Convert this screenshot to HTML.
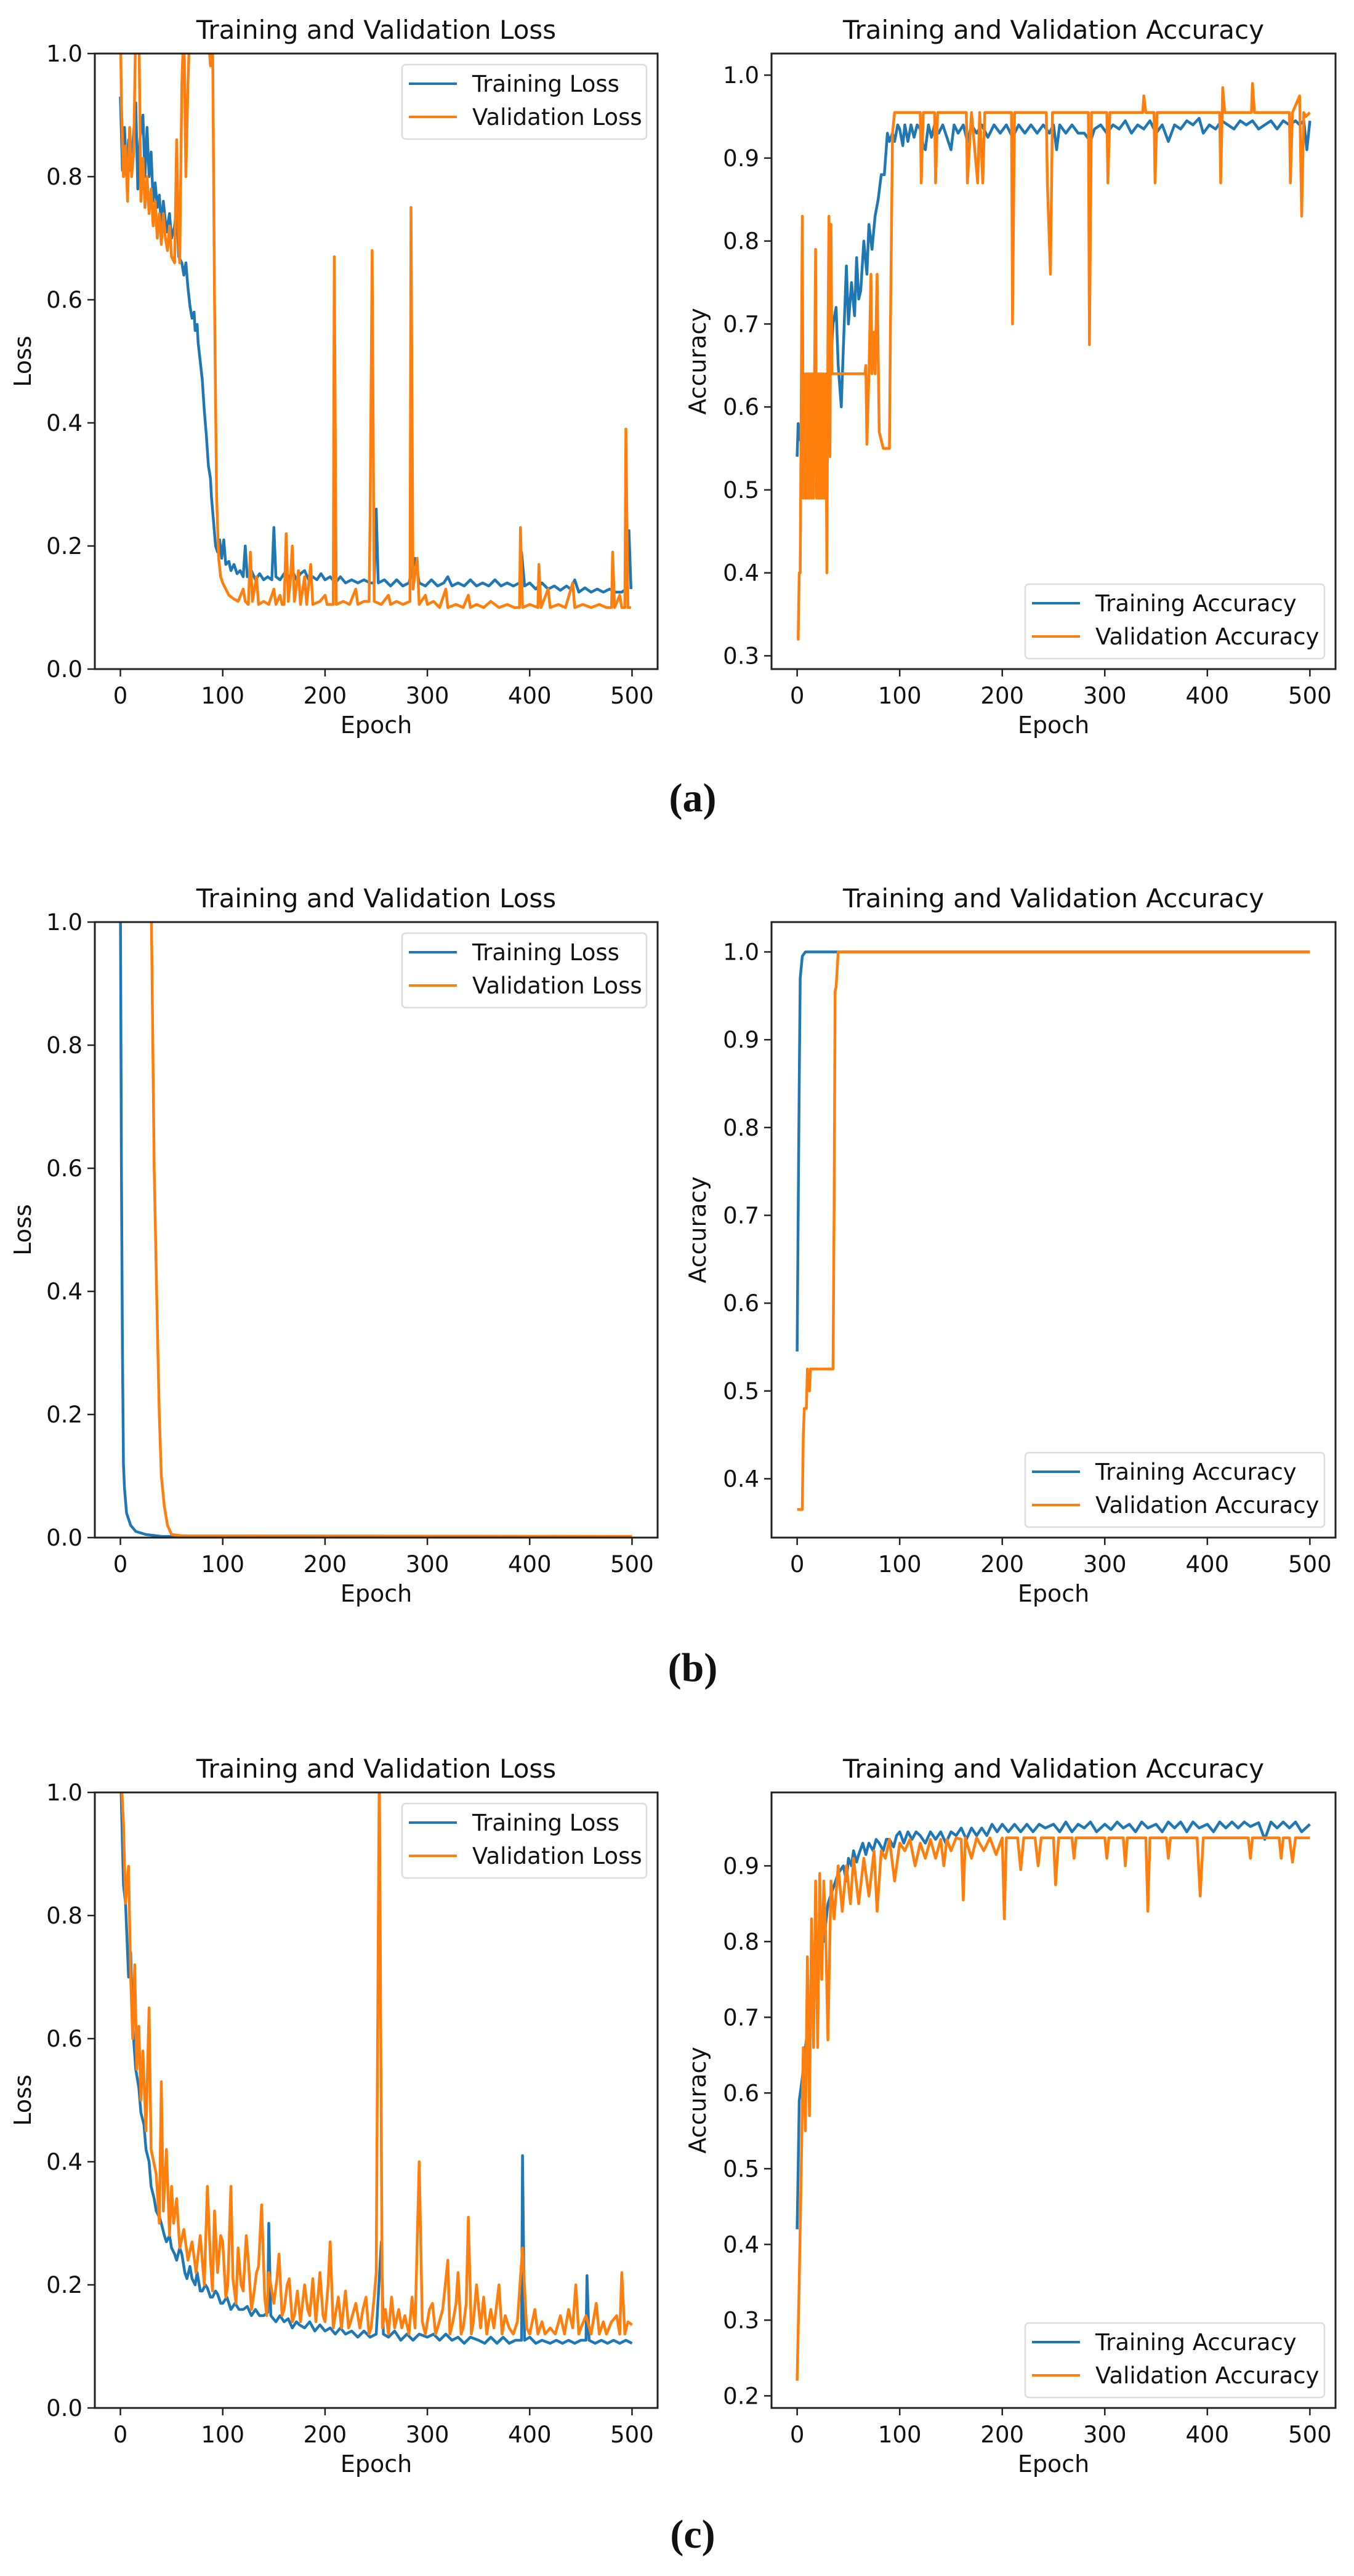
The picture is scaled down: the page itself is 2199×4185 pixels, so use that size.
<!DOCTYPE html>
<html><head><meta charset="utf-8"><title>Training curves</title>
<style>
html,body{margin:0;padding:0;background:#fff;}
svg{display:block;}
text{font-family:"DejaVu Sans","Liberation Sans",sans-serif;fill:#111;}
.plabel{font-family:"Liberation Serif",serif;font-weight:bold;font-size:66px;}
</style></head>
<body>
<svg id="fig" width="2199" height="4185" viewBox="0 0 2199 4185" xmlns="http://www.w3.org/2000/svg">
<rect width="2199" height="4185" fill="#fff"/>
<text class="plabel" x="1125" y="1318" text-anchor="middle">(a)</text>
<text class="plabel" x="1125" y="2731" text-anchor="middle">(b)</text>
<text class="plabel" x="1125" y="4139" text-anchor="middle">(c)</text>
</svg>
<script>
// ---------- data: [epoch, value] ----------
const xTicks = [0,100,200,300,400,500];
const lossTicks = [0.0,0.2,0.4,0.6,0.8,1.0];
const accTicksA = [0.3,0.4,0.5,0.6,0.7,0.8,0.9,1.0];
const accTicksB = [0.4,0.5,0.6,0.7,0.8,0.9,1.0];
const accTicksC = [0.2,0.3,0.4,0.5,0.6,0.7,0.8,0.9];

const aTrainLoss = [[0,0.93],[2,0.81],[4,0.88],[6,0.80],[8,0.86],[10,0.81],[12,0.85],[15,0.92],[17,0.78],[19,0.86],[22,0.90],[24,0.80],[26,0.88],[28,0.80],[30,0.84],[32,0.76],[34,0.79],[36,0.75],[38,0.77],[40,0.72],[42,0.76],[45,0.71],[48,0.74],[50,0.70],[53,0.72],[55,0.75],[57,0.67],[60,0.66],[62,0.64],[64,0.66],[66,0.62],[68,0.59],[70,0.57],[72,0.58],[73,0.55],[75,0.56],[76,0.53],[78,0.50],[80,0.47],[82,0.42],[84,0.38],[86,0.33],[88,0.31],[89,0.28],[91,0.24],[93,0.20],[95,0.19],[97,0.21],[99,0.18],[101,0.21],[103,0.17],[106,0.175],[108,0.16],[111,0.17],[114,0.155],[117,0.16],[120,0.15],[122,0.20],[124,0.15],[128,0.16],[132,0.145],[136,0.155],[140,0.145],[144,0.15],[148,0.145],[150,0.23],[152,0.15],[156,0.145],[160,0.155],[164,0.145],[168,0.16],[172,0.145],[176,0.155],[180,0.16],[184,0.145],[188,0.15],[192,0.145],[196,0.155],[200,0.145],[205,0.15],[210,0.14],[215,0.15],[220,0.14],[226,0.145],[232,0.14],[238,0.145],[244,0.14],[248,0.14],[250,0.26],[252,0.14],[258,0.145],[264,0.135],[270,0.145],[276,0.135],[282,0.14],[288,0.18],[292,0.14],[298,0.135],[304,0.145],[310,0.135],[316,0.14],[320,0.15],[324,0.135],[330,0.14],[336,0.135],[342,0.145],[348,0.135],[354,0.14],[360,0.135],[366,0.145],[372,0.135],[378,0.14],[384,0.135],[390,0.14],[392,0.19],[395,0.135],[400,0.14],[406,0.13],[412,0.14],[418,0.13],[424,0.135],[430,0.128],[436,0.135],[440,0.13],[444,0.145],[448,0.125],[454,0.132],[460,0.125],[466,0.13],[472,0.125],[478,0.13],[484,0.125],[490,0.125],[494,0.13],[497,0.225],[499,0.13]];
const aValLoss = [[0,1.05],[1,0.92],[3,0.80],[5,0.85],[7,0.76],[9,0.88],[11,0.80],[13,0.84],[15,1.05],[18,1.05],[20,0.76],[22,0.83],[24,0.75],[26,0.80],[28,0.74],[30,0.78],[32,0.72],[34,0.76],[36,0.70],[38,0.74],[40,0.69],[42,0.74],[44,0.70],[46,0.68],[48,0.72],[50,0.67],[53,0.66],[55,0.86],[57,0.69],[58,0.66],[60,0.95],[62,1.05],[64,0.80],[66,0.95],[68,1.05],[85,1.05],[88,0.98],[90,1.05],[92,0.60],[94,0.28],[96,0.18],[98,0.15],[100,0.14],[103,0.13],[106,0.12],[110,0.115],[115,0.11],[120,0.13],[122,0.11],[125,0.105],[127,0.19],[129,0.11],[133,0.15],[135,0.105],[140,0.11],[145,0.105],[150,0.13],[152,0.105],[156,0.12],[158,0.105],[160,0.105],[162,0.22],[164,0.11],[166,0.14],[168,0.20],[170,0.11],[174,0.16],[176,0.105],[180,0.15],[182,0.105],[186,0.17],[188,0.105],[195,0.11],[200,0.12],[202,0.105],[208,0.105],[209,0.67],[211,0.105],[218,0.11],[224,0.105],[230,0.13],[232,0.105],[238,0.11],[243,0.11],[244,0.24],[246,0.68],[248,0.11],[255,0.105],[262,0.12],[264,0.105],[270,0.11],[276,0.105],[283,0.11],[284,0.75],[286,0.13],[290,0.18],[292,0.105],[298,0.12],[300,0.105],[306,0.11],[312,0.10],[318,0.13],[320,0.10],[328,0.105],[335,0.10],[340,0.12],[342,0.10],[348,0.105],[355,0.10],[362,0.11],[370,0.10],[378,0.105],[385,0.10],[390,0.10],[391,0.23],[393,0.10],[400,0.105],[408,0.10],[409,0.17],[411,0.10],[418,0.13],[420,0.10],[428,0.105],[435,0.10],[442,0.14],[444,0.10],[452,0.105],[460,0.10],[468,0.105],[475,0.10],[480,0.10],[481,0.19],[483,0.10],[488,0.12],[490,0.10],[493,0.10],[494,0.39],[496,0.10],[499,0.10]];
const aTrainAcc = [[0,0.54],[1,0.58],[3,0.56],[5,0.60],[8,0.58],[10,0.63],[13,0.60],[15,0.62],[18,0.59],[20,0.60],[23,0.63],[25,0.62],[28,0.60],[30,0.64],[33,0.66],[35,0.70],[38,0.72],[40,0.65],[43,0.60],[45,0.67],[48,0.77],[50,0.70],[53,0.75],[56,0.71],[58,0.78],[60,0.73],[62,0.74],[65,0.80],[68,0.76],[70,0.82],[73,0.79],[76,0.83],[79,0.85],[82,0.88],[85,0.88],[88,0.93],[90,0.92],[93,0.93],[95,0.92],[98,0.94],[100,0.935],[103,0.915],[105,0.94],[108,0.92],[111,0.94],[114,0.925],[117,0.94],[120,0.935],[123,0.915],[125,0.91],[128,0.94],[131,0.925],[134,0.94],[138,0.93],[142,0.94],[146,0.925],[150,0.91],[153,0.94],[157,0.93],[162,0.94],[166,0.92],[170,0.94],[175,0.93],[180,0.94],[186,0.925],[192,0.94],[198,0.93],[204,0.94],[210,0.925],[216,0.94],[222,0.93],[228,0.94],[234,0.93],[240,0.94],[246,0.93],[250,0.94],[253,0.91],[256,0.94],[262,0.93],[268,0.94],[274,0.93],[280,0.93],[286,0.92],[290,0.935],[296,0.94],[302,0.93],[308,0.94],[314,0.935],[320,0.945],[326,0.93],[332,0.94],[338,0.935],[344,0.945],[350,0.93],[356,0.94],[362,0.92],[368,0.94],[374,0.935],[380,0.945],[386,0.94],[392,0.948],[396,0.93],[402,0.94],[408,0.935],[414,0.945],[420,0.94],[426,0.935],[432,0.945],[438,0.94],[444,0.945],[450,0.935],[456,0.94],[462,0.945],[468,0.935],[474,0.945],[480,0.94],[486,0.945],[490,0.94],[494,0.945],[497,0.91],[500,0.945]];
const aValAcc = [[0,0.32],[1,0.32],[2,0.40],[3,0.40],[5,0.83],[6,0.49],[7,0.64],[8,0.49],[9,0.64],[10,0.49],[11,0.64],[12,0.49],[13,0.64],[14,0.49],[15,0.64],[16,0.49],[17,0.64],[18,0.79],[19,0.49],[20,0.64],[21,0.49],[22,0.64],[23,0.49],[24,0.64],[25,0.49],[26,0.64],[27,0.49],[28,0.64],[29,0.40],[30,0.68],[31,0.83],[32,0.54],[33,0.82],[34,0.64],[66,0.64],[67,0.65],[68,0.555],[70,0.64],[72,0.76],[73,0.64],[75,0.69],[76,0.64],[78,0.76],[80,0.57],[84,0.55],[90,0.55],[91,0.70],[93,0.93],[95,0.955],[120,0.955],[121,0.87],[123,0.955],[134,0.955],[135,0.87],[137,0.955],[165,0.955],[166,0.87],[170,0.955],[176,0.87],[178,0.955],[181,0.87],[183,0.955],[209,0.955],[210,0.70],[212,0.955],[243,0.955],[244,0.87],[247,0.76],[249,0.955],[284,0.955],[285,0.675],[287,0.955],[302,0.955],[303,0.87],[305,0.955],[337,0.955],[338,0.975],[340,0.955],[348,0.955],[349,0.87],[351,0.955],[412,0.955],[413,0.87],[415,0.985],[417,0.955],[443,0.955],[444,0.99],[446,0.955],[480,0.955],[481,0.87],[483,0.955],[490,0.975],[492,0.83],[494,0.955],[496,0.95],[500,0.955]];

const bTrainLoss = [[0,1.05],[1,0.60],[2,0.30],[3,0.12],[4,0.08],[6,0.04],[10,0.02],[15,0.01],[25,0.005],[40,0.002],[500,0.001]];
const bValLoss = [[30,1.05],[31,0.90],[33,0.60],[36,0.35],[38,0.20],[40,0.10],[43,0.05],[46,0.02],[50,0.005],[60,0.003],[500,0.002]];
const bTrainAcc = [[0,0.545],[1,0.70],[2,0.85],[3,0.97],[5,0.995],[8,1.0],[500,1.0]];
const bValAcc = [[0,0.365],[5,0.365],[6,0.45],[7,0.48],[9,0.48],[10,0.525],[12,0.50],[13,0.525],[35,0.525],[36,0.70],[37,0.955],[38,0.96],[40,1.0],[500,1.0]];

const cTrainLoss = [[0,1.05],[3,0.85],[5,0.82],[8,0.70],[10,0.74],[12,0.62],[15,0.55],[18,0.52],[20,0.48],[23,0.46],[25,0.42],[28,0.40],[30,0.36],[33,0.34],[35,0.32],[38,0.31],[40,0.30],[43,0.28],[45,0.27],[48,0.28],[50,0.26],[53,0.25],[55,0.24],[58,0.26],[60,0.25],[63,0.22],[65,0.21],[68,0.23],[70,0.21],[73,0.20],[75,0.22],[78,0.19],[80,0.19],[83,0.20],[85,0.195],[88,0.18],[90,0.18],[93,0.19],[95,0.185],[98,0.17],[100,0.17],[104,0.18],[108,0.16],[112,0.17],[116,0.16],[120,0.16],[124,0.165],[128,0.15],[132,0.16],[136,0.15],[140,0.15],[144,0.155],[145,0.30],[147,0.15],[152,0.14],[156,0.15],[160,0.14],[164,0.145],[168,0.13],[172,0.14],[175,0.135],[180,0.13],[185,0.14],[190,0.125],[195,0.135],[200,0.125],[205,0.13],[210,0.12],[215,0.13],[220,0.12],[226,0.125],[232,0.115],[238,0.125],[244,0.115],[250,0.12],[255,0.27],[257,0.12],[262,0.115],[268,0.125],[274,0.11],[280,0.12],[286,0.11],[292,0.12],[300,0.115],[306,0.12],[312,0.11],[318,0.12],[324,0.11],[330,0.115],[336,0.105],[342,0.115],[350,0.11],[356,0.105],[362,0.115],[368,0.105],[374,0.115],[380,0.105],[386,0.11],[392,0.11],[393,0.41],[395,0.11],[400,0.115],[406,0.105],[412,0.11],[420,0.105],[426,0.11],[432,0.105],[438,0.11],[444,0.105],[450,0.11],[455,0.11],[456,0.215],[458,0.11],[464,0.105],[470,0.11],[476,0.105],[482,0.11],[488,0.105],[494,0.11],[500,0.105]];
const cValLoss = [[0,1.05],[3,0.95],[5,0.82],[8,0.88],[10,0.70],[12,0.60],[14,0.72],[16,0.55],[18,0.62],[20,0.50],[22,0.58],[25,0.45],[28,0.65],[30,0.42],[35,0.38],[38,0.30],[40,0.53],[42,0.32],[45,0.42],[48,0.28],[50,0.36],[52,0.30],[55,0.34],[58,0.26],[62,0.29],[66,0.24],[70,0.27],[74,0.22],[78,0.28],[82,0.20],[85,0.36],[88,0.24],[90,0.19],[92,0.32],[95,0.22],[98,0.28],[100,0.27],[103,0.18],[105,0.20],[108,0.36],[110,0.21],[113,0.17],[115,0.26],[118,0.2],[120,0.19],[123,0.28],[125,0.24],[128,0.16],[130,0.18],[133,0.22],[135,0.23],[138,0.33],[141,0.18],[143,0.15],[145,0.22],[148,0.19],[150,0.17],[153,0.21],[155,0.25],[158,0.15],[160,0.16],[163,0.2],[165,0.21],[168,0.14],[170,0.15],[173,0.19],[176,0.14],[180,0.20],[183,0.16],[185,0.15],[188,0.21],[191,0.14],[195,0.22],[198,0.15],[200,0.14],[203,0.2],[205,0.27],[208,0.13],[210,0.15],[213,0.18],[216,0.13],[220,0.19],[223,0.13],[225,0.14],[230,0.17],[234,0.13],[237,0.16],[240,0.18],[243,0.12],[245,0.13],[248,0.18],[250,0.22],[253,1.05],[256,0.13],[259,0.16],[262,0.12],[265,0.18],[268,0.13],[272,0.16],[275,0.13],[278,0.15],[282,0.12],[285,0.18],[288,0.13],[292,0.40],[295,0.14],[298,0.12],[302,0.16],[305,0.17],[308,0.12],[310,0.13],[315,0.16],[320,0.24],[322,0.12],[325,0.14],[328,0.17],[330,0.22],[333,0.12],[335,0.13],[338,0.17],[340,0.31],[343,0.12],[345,0.14],[348,0.2],[352,0.13],[355,0.18],[358,0.12],[362,0.16],[365,0.13],[370,0.20],[373,0.12],[376,0.15],[380,0.13],[384,0.12],[388,0.14],[393,0.26],[397,0.13],[400,0.12],[405,0.16],[408,0.12],[412,0.14],[415,0.12],[420,0.13],[425,0.12],[430,0.15],[434,0.12],[438,0.16],[442,0.13],[445,0.20],[448,0.12],[450,0.13],[455,0.15],[460,0.12],[465,0.17],[468,0.12],[472,0.14],[475,0.12],[480,0.14],[485,0.15],[488,0.12],[490,0.22],[493,0.12],[496,0.14],[500,0.135]];
const cTrainAcc = [[0,0.42],[1,0.50],[2,0.59],[5,0.62],[8,0.66],[12,0.70],[15,0.73],[18,0.78],[22,0.82],[26,0.80],[30,0.85],[35,0.87],[40,0.89],[45,0.90],[48,0.88],[50,0.91],[53,0.9],[55,0.92],[58,0.905],[60,0.915],[64,0.93],[67,0.915],[70,0.93],[74,0.92],[77,0.935],[80,0.93],[84,0.92],[87,0.935],[90,0.935],[94,0.925],[97,0.94],[100,0.945],[104,0.93],[108,0.945],[112,0.935],[116,0.945],[120,0.94],[125,0.93],[130,0.945],[135,0.935],[140,0.945],[145,0.93],[150,0.945],[155,0.94],[160,0.95],[165,0.935],[170,0.950],[175,0.94],[180,0.95],[185,0.94],[190,0.955],[195,0.945],[200,0.955],[206,0.945],[212,0.955],[218,0.945],[224,0.955],[230,0.945],[236,0.955],[242,0.95],[250,0.955],[256,0.945],[262,0.958],[268,0.945],[274,0.955],[280,0.95],[286,0.958],[292,0.945],[300,0.955],[306,0.948],[312,0.958],[318,0.95],[324,0.955],[330,0.945],[336,0.958],[342,0.95],[350,0.955],[356,0.945],[362,0.958],[368,0.95],[374,0.958],[380,0.945],[386,0.958],[392,0.95],[400,0.955],[406,0.945],[412,0.958],[418,0.95],[424,0.958],[430,0.95],[436,0.958],[442,0.952],[450,0.957],[456,0.935],[462,0.958],[468,0.95],[474,0.958],[480,0.95],[486,0.958],[492,0.945],[500,0.955]];
const cValAcc = [[0,0.22],[2,0.35],[4,0.50],[6,0.66],[8,0.55],[10,0.78],[12,0.57],[14,0.83],[16,0.66],[18,0.88],[20,0.66],[22,0.89],[24,0.75],[26,0.88],[28,0.80],[30,0.67],[33,0.88],[36,0.83],[40,0.90],[44,0.84],[48,0.90],[52,0.85],[55,0.91],[60,0.85],[65,0.91],[70,0.86],[75,0.92],[78,0.84],[82,0.92],[86,0.91],[90,0.935],[95,0.88],[100,0.93],[105,0.92],[110,0.935],[115,0.90],[120,0.93],[125,0.91],[130,0.935],[135,0.91],[140,0.935],[143,0.90],[146,0.935],[150,0.92],[155,0.937],[160,0.935],[162,0.855],[164,0.937],[170,0.91],[175,0.937],[182,0.92],[188,0.937],[194,0.915],[200,0.937],[202,0.83],[204,0.937],[215,0.937],[218,0.895],[221,0.937],[232,0.937],[235,0.90],[238,0.937],[250,0.937],[252,0.875],[255,0.937],[268,0.937],[270,0.91],[272,0.937],[300,0.937],[302,0.91],[304,0.937],[318,0.937],[320,0.90],[322,0.937],[340,0.937],[342,0.84],[344,0.937],[360,0.937],[362,0.91],[364,0.937],[390,0.937],[393,0.86],[396,0.937],[440,0.937],[442,0.91],[444,0.937],[470,0.937],[472,0.91],[474,0.937],[480,0.937],[483,0.905],[486,0.937],[500,0.937]];

// ---------- drawing ----------
const NS = "http://www.w3.org/2000/svg";
const svg = document.getElementById('fig');
const BLUE = "#1f77b4", ORANGE = "#ff7f0e";
let clipId = 0;
function mk(tag, attrs, parent){ const e=document.createElementNS(NS,tag); for(const k in attrs) e.setAttribute(k,attrs[k]); (parent||svg).appendChild(e); return e; }

function chart(c){
  const g = mk('g',{});
  
  
  const X = v => c.x + (v - (-25)) / 550 * c.w;
  const Y = v => c.y + c.h - (v - c.ymin) / (c.ymax - c.ymin) * c.h;
  const id = 'clip' + (clipId++);
  const cp = mk('clipPath',{id:id},g); mk('rect',{x:c.x,y:c.y,width:c.w,height:c.h},cp);
  const t = mk('text',{x:c.x+c.w/2,y:c.y-24,'text-anchor':'middle','font-size':42},g); t.textContent=c.title;
  
  
  const series = [[c.s1,BLUE,'training-line'],[c.s2,ORANGE,'validation-line']];
  for(const [data,col,nm] of series){
    const d = data.map((p,i)=>(i?'L':'M')+X(p[0]).toFixed(1)+','+Y(p[1]).toFixed(1)).join('');
    const p = mk('path',{d:d,fill:'none',stroke:col,'stroke-width':4.5,'stroke-linejoin':'round','clip-path':'url(#'+id+')'},g);
    
    
  }
  const f = mk('rect',{x:c.x,y:c.y,width:c.w,height:c.h,fill:'none',stroke:'#222','stroke-width':3},g);
  
  
  for(const v of xTicks){
    const px = X(v);
    mk('line',{x1:px,x2:px,y1:c.y+c.h,y2:c.y+c.h+12,stroke:'#222','stroke-width':2.5},g);
    const tl = mk('text',{x:px,y:c.y+c.h+56,'text-anchor':'middle','font-size':37},g); tl.textContent=v;
    
    
  }
  for(const v of c.yt){
    const py = Y(v);
    mk('line',{x1:c.x-12,x2:c.x,y1:py,y2:py,stroke:'#222','stroke-width':2.5},g);
    const tl = mk('text',{x:c.x-20,y:py+13,'text-anchor':'end','font-size':37},g); tl.textContent=v.toFixed(1);
    
    
  }
  const xl = mk('text',{x:c.x+c.w/2,y:c.y+c.h+104,'text-anchor':'middle','font-size':38},g); xl.textContent='Epoch';
  
  
  const yx = c.ylabx, yy = c.y+c.h/2;
  const yl = mk('text',{x:yx,y:yy,'text-anchor':'middle','font-size':38,transform:'rotate(-90 '+yx+' '+yy+')'},g); yl.textContent=c.ylabel;
  
  
  const lw = c.legW, lh = 121;
  const lx = c.x + c.w - 18 - lw;
  const ly = c.legTop ? c.y + 18 : c.y + c.h - 17 - lh;
  const lg = mk('g',{},g);
  
  
  mk('rect',{x:lx,y:ly,width:lw,height:lh,rx:6,fill:'#fff','fill-opacity':0.85,stroke:'#ddd','stroke-width':2.5},lg);
  const labels=[[c.l1,BLUE],[c.l2,ORANGE]];
  labels.forEach(([txt,col],i)=>{
    const ry = ly + 31 + i*54;
    const e = mk('g',{},lg);
    
    
    mk('line',{x1:lx+11,x2:lx+89,y1:ry,y2:ry,stroke:col,'stroke-width':4},e);
    const tx = mk('text',{x:lx+114,y:ry+13,'font-size':37},e); tx.textContent=txt;
  });
}

const tops = [87,1498,2912];
const L = {x:154,w:914,h:1000}, R = {x:1253,w:916,h:1000};
const lossData = [[aTrainLoss,aValLoss],[bTrainLoss,bValLoss],[cTrainLoss,cValLoss]];
const accData = [[aTrainAcc,aValAcc],[bTrainAcc,bValAcc],[cTrainAcc,cValAcc]];
const accRanges = [[0.284,1.026],[0.333,1.034],[0.184,0.997]];
const accTicks = [accTicksA,accTicksB,accTicksC];
const ids = ['a','b','c'];
for(let i=0;i<3;i++){
  chart({name:'loss-chart-'+ids[i],x:L.x,y:tops[i],w:L.w,h:L.h,ymin:0,ymax:1,yt:lossTicks,title:'Training and Validation Loss',ylabel:'Loss',ylabx:50,s1:lossData[i][0],s2:lossData[i][1],l1:'Training Loss',l2:'Validation Loss',legW:397,legTop:true});
  chart({name:'accuracy-chart-'+ids[i],x:R.x,y:tops[i],w:R.w,h:R.h,ymin:accRanges[i][0],ymax:accRanges[i][1],yt:accTicks[i],title:'Training and Validation Accuracy',ylabel:'Accuracy',ylabx:1146,s1:accData[i][0],s2:accData[i][1],l1:'Training Accuracy',l2:'Validation Accuracy',legW:486,legTop:false});
}
</script>
</body></html>
